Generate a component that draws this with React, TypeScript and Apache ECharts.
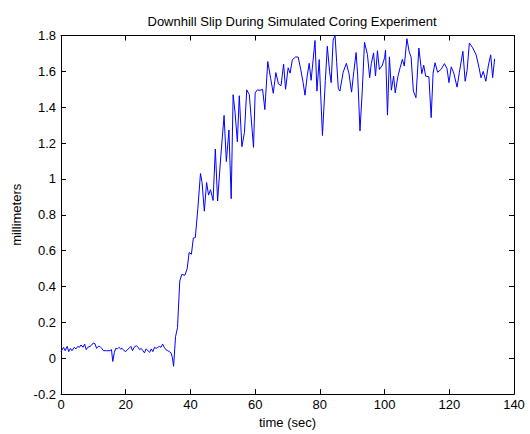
import React, { useEffect, useRef } from "react";
import * as echarts from "echarts";

const titleText = "Downhill Slip During Simulated Coring Experiment";
const xName = "time (sec)";
const yName = "millimeters";

// time (sec) of each sample
const times = [
  0.0, 0.8, 1.3, 1.9, 2.4, 2.9, 3.4, 4.1, 4.6, 5.2, 5.7, 6.2, 6.8, 7.3, 7.8, 8.3, 9.0, 9.5, 10.0, 10.5,
  11.0, 11.5, 12.0, 12.6, 13.1, 13.6, 14.1, 15.1, 15.6, 16.0, 16.5, 16.9, 17.4, 17.9, 18.4, 18.9, 19.5,
  20.0, 20.5, 21.0, 21.6, 22.1, 22.6, 23.3, 23.8, 24.3, 24.8, 25.3, 25.8, 26.3, 26.9, 27.4, 27.9, 28.4,
  28.9, 29.4, 29.9, 30.4, 30.9, 31.4, 31.9, 32.4, 33.0, 33.5, 34.0, 34.4, 34.8,
  35.4, 36.0, 36.7, 37.3, 38.3, 39.0, 39.6, 40.3, 40.9, 41.5, 42.3, 43.1, 43.6, 44.3, 45.0, 45.6, 46.2,
  47.0, 47.7, 48.4, 49.4, 50.4, 51.1, 51.9, 52.6, 53.2, 53.8, 54.5, 55.1, 55.9, 56.7, 57.4, 58.2, 59.5,
  60.0, 60.7, 61.5, 62.3, 63.0, 63.9, 64.8, 65.6, 66.4, 67.2, 68.0, 68.8, 69.4, 70.2, 70.8, 71.5, 72.5,
  73.3, 74.1, 74.8, 75.4, 76.1, 76.7, 77.3, 78.5, 79.1, 79.8, 80.8, 81.7, 82.3, 83.0, 83.5, 84.1, 84.7,
  85.2, 85.7, 86.2, 87.2, 88.2, 89.0, 89.8, 90.5, 91.2, 91.7, 92.4, 93.1, 93.8, 94.7, 95.4, 95.9, 96.6,
  97.2, 97.8, 98.4, 99.3, 100.0, 100.3, 100.9, 101.5, 102.1, 102.8, 103.3, 104.1, 104.8, 105.5, 106.1,
  106.9, 107.6, 108.2, 108.9, 109.7, 110.6, 111.5, 112.1, 112.7, 113.7, 114.4, 115.0, 115.6, 116.4,
  117.5, 118.5, 119.3, 119.9, 120.6, 121.4, 122.4, 123.1, 124.2, 124.9, 125.5, 126.2, 127.2, 128.3,
  129.2, 129.8, 130.5, 131.3, 132.1, 132.8, 133.4, 134.0,
];

// slip (millimeters) of each sample
const slip = [
  0.037, 0.061, 0.042, 0.066, 0.037, 0.055, 0.042, 0.061, 0.052, 0.066, 0.061, 0.074, 0.061, 0.079, 0.048,
  0.061, 0.066, 0.074, 0.085, 0.081, 0.055, 0.066, 0.066, 0.055, 0.042, 0.042, 0.042, 0.042, 0.048, -0.018,
  0.033, 0.055, 0.052, 0.061, 0.052, 0.055, 0.042, 0.037, 0.048, 0.055, 0.066, 0.042, 0.061, 0.07, 0.061,
  0.048, 0.055, 0.042, 0.03, 0.052, 0.042, 0.033, 0.052, 0.037, 0.061, 0.055, 0.061, 0.066, 0.061, 0.079,
  0.061, 0.048, 0.042, 0.037, 0.03, 0.006, -0.045,
  0.12, 0.17, 0.43, 0.467, 0.463, 0.5, 0.59, 0.58, 0.67, 0.673, 0.836, 1.03, 0.98, 0.82, 0.98, 0.91, 0.94,
  0.88, 1.167, 0.877, 1.13, 1.354, 1.097, 1.273, 0.89, 1.47, 1.369, 1.207, 1.464, 1.18, 1.26, 1.497, 1.47,
  1.176, 1.48, 1.497, 1.494, 1.5, 1.387, 1.655, 1.56, 1.478, 1.593, 1.53, 1.52, 1.64, 1.5, 1.62, 1.59,
  1.665, 1.68, 1.68, 1.61, 1.54, 1.467, 1.575, 1.645, 1.55, 1.772, 1.49, 1.666, 1.242, 1.55, 1.74, 1.6,
  1.537, 1.774, 1.8, 1.65, 1.505, 1.49, 1.595, 1.645, 1.587, 1.484, 1.6, 1.705, 1.575, 1.268, 1.49, 1.762,
  1.694, 1.565, 1.643, 1.703, 1.574, 1.715, 1.61, 1.634, 1.676, 1.718, 1.356, 1.681, 1.495, 1.574, 1.48,
  1.57, 1.62, 1.667, 1.63, 1.782, 1.71, 1.68, 1.49, 1.453, 1.73, 1.587, 1.634, 1.573, 1.57, 1.342, 1.59,
  1.648, 1.595, 1.612, 1.643, 1.615, 1.537, 1.625, 1.59, 1.512, 1.592, 1.712, 1.545, 1.605, 1.758, 1.732,
  1.692, 1.62, 1.564, 1.6, 1.545, 1.635, 1.692, 1.565, 1.67,
];

const xMin = 0;
const xMax = 140;
const xStep = 20;
const yMin = -0.2;
const yMax = 1.8;
const yStep = 0.2;

const FONT = "'Liberation Sans', Arial, Helvetica, sans-serif";

export default function App() {
  const ref = useRef<HTMLDivElement>(null);
  useEffect(() => {
    if (!ref.current) return;
    const chart = echarts.init(ref.current, undefined, { renderer: "svg" });
    const data = times.map((t, i) => [t, slip[i]]);
    const tick = { inside: true, length: 5, lineStyle: { color: "#000", width: 1 } };
    const line = { show: true, onZero: false, lineStyle: { color: "#000", width: 1 } };
    chart.setOption({
      animation: false,
      backgroundColor: "#fff",
      textStyle: { fontFamily: FONT },
      title: {
        text: titleText,
        left: 287,
        textAlign: "center",
        top: 10,
        textStyle: { fontSize: 13, fontWeight: "normal", color: "#000", fontFamily: FONT },
      },
      grid: { left: 61, right: 16, top: 35.5, bottom: 33.5, containLabel: false },
      xAxis: [
        {
          type: "value",
          min: xMin,
          max: xMax,
          interval: xStep,
          position: "bottom",
          name: xName,
          nameLocation: "middle",
          nameGap: 19,
          nameTextStyle: { fontSize: 13, color: "#000", fontFamily: FONT },
          axisLine: line,
          axisTick: tick,
          axisLabel: { fontSize: 13, color: "#000", margin: 4, fontFamily: FONT },
          splitLine: { show: false },
        },
        {
          type: "value",
          min: xMin,
          max: xMax,
          interval: xStep,
          position: "top",
          axisLine: line,
          axisTick: tick,
          axisLabel: { show: false },
          splitLine: { show: false },
        },
      ],
      yAxis: [
        {
          type: "value",
          min: yMin,
          max: yMax,
          interval: yStep,
          position: "left",
          name: yName,
          nameLocation: "middle",
          nameGap: 37,
          nameTextStyle: { fontSize: 13, color: "#000", fontFamily: FONT },
          axisLine: line,
          axisTick: tick,
          axisLabel: {
            fontSize: 13,
            color: "#000",
            margin: 5,
            fontFamily: FONT,
            formatter: (v: number) => String(Math.round(v * 10) / 10),
          },
          splitLine: { show: false },
        },
        {
          type: "value",
          min: yMin,
          max: yMax,
          interval: yStep,
          position: "right",
          axisLine: line,
          axisTick: tick,
          axisLabel: { show: false },
          splitLine: { show: false },
        },
      ],
      series: [
        {
          type: "line",
          data,
          xAxisIndex: 0,
          yAxisIndex: 0,
          showSymbol: false,
          symbol: "none",
          lineStyle: { color: "#0000ff", width: 1 },
        },
      ],
    });
    return () => chart.dispose();
  }, []);
  return (
    <div
      ref={ref}
      style={{ position: "fixed", left: 0, top: 0, width: 530, height: 434, background: "#fff" }}
    />
  );
}
